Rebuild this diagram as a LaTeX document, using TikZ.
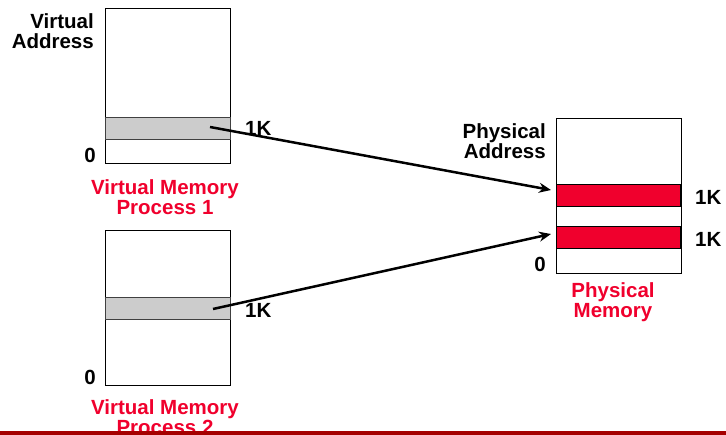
\documentclass[tikz,border=0pt]{standalone}
\usepackage{fontspec}
\setmainfont{Liberation Sans}
\usetikzlibrary{arrows.meta}
\definecolor{memred}{RGB}{240,0,45}
\definecolor{rulered}{RGB}{165,0,0}
\definecolor{pagegray}{RGB}{204,204,204}

\begin{document}
\begin{tikzpicture}[x=1pt,y=-1pt,
  txt/.style={font=\bfseries\fontsize{20.5}{20.5}\selectfont,inner sep=0pt},
  frame/.style={draw,line width=1pt,minimum width=125pt,minimum height=155pt,anchor=north west,inner sep=0pt},
  page/.style={draw=black!75,line width=1.2pt,fill=pagegray,minimum width=125pt,minimum height=22pt,anchor=north west,inner sep=0pt},
  frm/.style={draw,line width=1.2pt,fill=memred,minimum width=124pt,minimum height=22pt,anchor=north west,inner sep=0pt},
  link/.style={line width=2.5pt,-{Stealth[length=12pt,width=10pt]}}]
\useasboundingbox (0,0) rectangle (726,435);
% process 1
\node[frame] (vm1) at (105,8) {};
\node[page] (pg1) at (105,117) {};
\node[txt,align=right,anchor=north east] (va) at (94,13) {Virtual\\Address};
\node[txt,anchor=base east] (z1) at (96,163) {0};
\node[txt,anchor=base west] (k1) at (245,136) {1K};
\node[txt,memred,align=center,anchor=north] (p1) at (165,179) {Virtual Memory\\Process 1};
% process 2
\node[frame] (vm2) at (105,230) {};
\node[page] (pg2) at (105,297) {};
\node[txt,anchor=base east] (z2) at (96,385) {0};
\node[txt,anchor=base west] (k2) at (245,318) {1K};
\node[txt,memred,align=center,anchor=north] (p2) at (165,399) {Virtual Memory\\Process 2};
% physical memory
\node[frame] (pm) at (556,118) {};
\node[frm] (fr1) at (556,184) {};
\node[frm] (fr2) at (556,226) {};
\node[txt,align=right,anchor=north east] (pa) at (546,123) {Physical\\Address};
\node[txt,anchor=base east] (z3) at (546,272) {0};
\node[txt,anchor=base west] (k3) at (695,205) {1K};
\node[txt,anchor=base west] (k4) at (695,247) {1K};
\node[txt,memred,align=center,anchor=north] (pmn) at (613,282) {Physical\\Memory};
% mappings
\coordinate (s1) at (210,127);
\coordinate (d1) at (551,190);
\coordinate (s2) at (213,309);
\coordinate (d2) at (551,234);
\draw[link] (s1) -- (d1);
\draw[link] (s2) -- (d2);
\draw[rulered,line width=4pt] (0,433) -- (726,433);
\end{tikzpicture}
\end{document}
